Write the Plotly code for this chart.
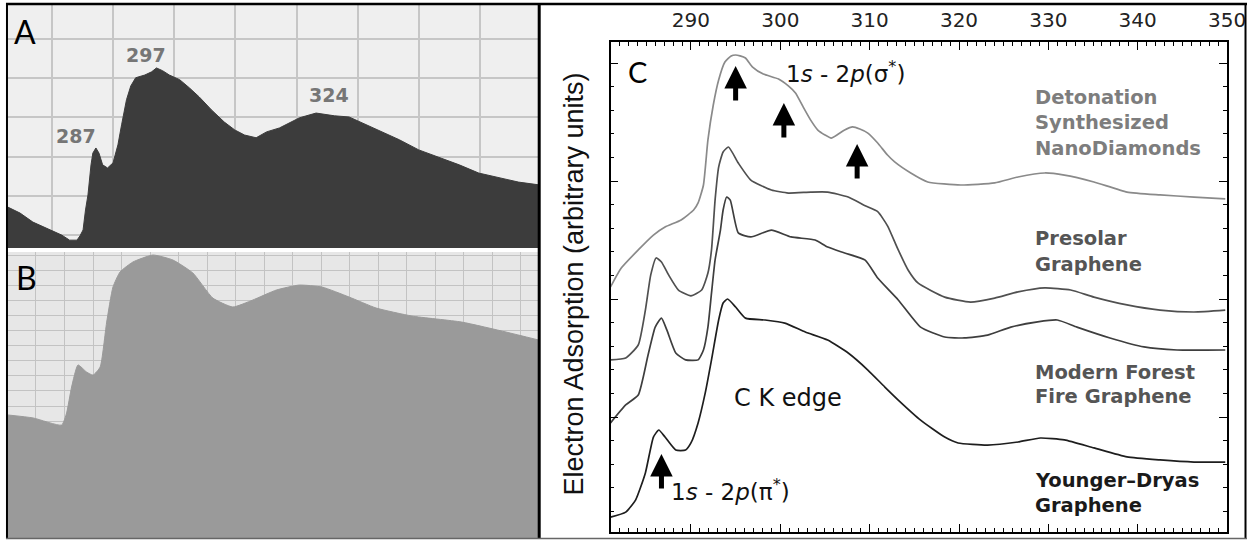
import plotly.graph_objects as go

W, H = 1252, 540          # reference picture size used for placing elements
LW, LH = 1268, 540        # layout size handed to plotly (renders at 1252 wide)

def px(x): return x / W
def py(y): return 1 - y / H

# ---------------- Panel A (dark spectrum) ----------------
a_ev = [272.7, 274.8, 276.9, 279.7, 281.6, 282.9, 284.1, 284.6, 285.1, 285.5, 285.9, 286.4, 286.7,
        287.2, 287.7, 288.3, 289.1, 290.0, 290.8, 291.4, 292.2, 292.9, 293.7, 295.2, 296.3, 297.1,
        298.1, 299.2, 300.9, 302.5, 304.1, 306.1, 308.2, 309.9, 311.5, 313.4, 315.1, 317.2, 320.5,
        323.2, 326.2, 328.6, 331.4, 333.5, 336.8, 340.0, 343.3, 346.6, 349.8, 353.1, 356.3, 359.6]
a_int = [1.05, 0.89, 0.66, 0.46, 0.33, 0.20, 0.20, 0.31, 0.46, 0.97, 1.35, 2.12, 2.42,
         2.55, 2.42, 2.12, 2.04, 2.17, 2.63, 3.14, 3.78, 4.13, 4.34, 4.41, 4.49, 4.59,
         4.52, 4.41, 4.29, 4.08, 3.85, 3.52, 3.21, 3.01, 2.88, 2.81, 2.96, 3.06, 3.32,
         3.44, 3.37, 3.34, 3.14, 3.01, 2.76, 2.50, 2.32, 2.12, 1.91, 1.79, 1.68, 1.61]
a_peak_labels = ["287", "297", "324"]

# ---------------- Panel B (gray spectrum) ----------------
b_ev = [272.0, 275.6, 279.6, 280.3, 281.0, 281.9, 283.1, 284.0, 285.0, 285.9, 286.8, 287.8, 289.6,
        292.4, 295.2, 298.0, 300.8, 303.6, 306.4, 309.7, 312.9, 316.1, 319.9, 323.7, 328.7, 335.7,
        341.9, 346.5]
b_int = [8.15, 7.95, 7.48, 8.28, 10.0, 11.46, 10.99, 10.79, 11.32, 14.24, 16.62, 17.62, 18.28,
         18.74, 18.41, 17.55, 15.89, 15.30, 15.76, 16.42, 16.75, 16.62, 15.96, 15.23, 14.70, 14.30,
         13.64, 13.11]

# ---------------- Panel C (stacked EELS spectra) ----------------
c_tick_ev = [290, 300, 310, 320, 330, 340, 350]

nd_ev = [281.0, 282.2, 284.1, 285.8, 287.1, 288.9, 290.3, 290.8, 291.4, 291.9, 292.5, 293.1, 293.8,
         294.5, 295.0, 295.5, 296.1, 296.9, 298.1, 299.8, 300.9, 301.7, 302.5, 303.4, 304.2, 305.0,
         305.7, 306.5, 307.2, 308.1, 308.9, 309.8, 310.9, 312.0, 312.8, 314.6, 316.5, 320.2, 324.0,
         326.6, 329.6, 331.8, 335.1, 338.8, 342.5, 346.3, 349.8]
nd_val = [10.51, 11.31, 12.08, 12.71, 13.05, 13.35, 13.77, 14.07, 14.83, 16.74, 18.22, 19.28, 20.04,
          20.30, 20.34, 20.30, 20.21, 19.83, 19.53, 19.32, 19.03, 18.73, 18.18, 17.58, 17.16, 16.95,
          16.82, 16.99, 17.16, 17.29, 17.20, 17.03, 16.61, 16.10, 15.81, 15.34, 14.96, 14.83, 14.92,
          15.17, 15.34, 15.25, 14.96, 14.53, 14.41, 14.32, 14.24]

pre_ev = [281.0, 282.7, 284.1, 284.9, 285.5, 286.1, 286.7, 287.5, 288.6, 290.0, 291.2, 291.9, 292.3,
          292.7, 293.1, 293.6, 294.2, 295.3, 296.7, 299.0, 300.9, 303.4, 305.3, 307.6, 309.5, 310.9,
          312.0, 313.2, 314.3, 315.4, 318.4, 321.3, 324.0, 326.6, 329.6, 332.5, 335.1, 338.8, 342.5,
          346.3, 349.8]
pre_val = [7.42, 7.50, 8.05, 9.53, 11.02, 11.74, 11.57, 11.02, 10.38, 10.13, 10.38, 11.10, 12.08,
           14.19, 15.59, 16.23, 16.44, 15.76, 15.04, 14.62, 14.49, 14.53, 14.53, 14.32, 13.95, 13.70,
           13.10, 12.08, 11.23, 10.68, 10.08, 9.87, 10.04, 10.30, 10.47, 10.38, 10.08, 9.75, 9.53,
           9.45, 9.53]

mf_ev = [281.0, 282.7, 284.1, 285.2, 286.0, 286.7, 287.3, 288.3, 289.4, 290.8, 291.4, 291.9, 292.3,
         292.7, 293.3, 293.6, 294.0, 294.4, 295.3, 296.7, 299.0, 301.2, 303.9, 305.3, 307.2, 309.5,
         310.9, 313.2, 315.7, 318.4, 320.6, 323.2, 325.8, 328.8, 331.0, 333.2, 336.9, 340.7, 344.4,
         349.8]
mf_val = [4.75, 5.51, 5.93, 7.63, 8.81, 9.19, 8.69, 7.71, 7.42, 7.42, 7.84, 8.81, 10.25,
          11.65, 12.92, 13.77, 14.32, 14.19, 12.80, 12.63, 12.92, 12.63, 12.50, 12.20, 11.95, 11.65,
          10.89, 9.96, 8.81, 8.39, 8.35, 8.47, 8.81, 9.03, 9.11, 8.81, 8.35, 7.97, 7.84,
          7.84]

yd_ev = [281.0, 282.7, 283.8, 284.9, 285.8, 286.4, 287.1, 288.3, 289.4, 290.0, 290.8, 291.6, 292.3,
         293.1, 293.6, 294.1, 295.0, 296.1, 298.3, 300.5, 302.8, 305.3, 307.6, 309.8, 311.7, 313.2,
         315.7, 318.4, 319.9, 323.2, 326.6, 329.1, 331.8, 335.1, 338.8, 342.5, 346.3, 349.8]
yd_val = [0.76, 0.97, 1.48, 2.63, 4.15, 4.45, 4.15, 3.60, 3.60, 3.90, 4.75, 6.02, 7.42,
          9.11, 9.83, 10.00, 9.66, 9.19, 9.11, 8.98, 8.60, 8.26, 7.71, 6.99, 6.27, 5.72,
          4.87, 4.15, 3.90, 3.81, 3.94, 4.11, 4.03, 3.69, 3.31, 3.18, 3.09, 3.09]

# transition arrows: energy (eV) and tip height (same units as the spectra)
arrow_ev = [295.0, 300.4, 308.6, 286.7]
arrow_tip = [19.87, 18.31, 16.57, 3.43]

series_labels = [
    (["Detonation", "Synthesized", "NanoDiamonds"], [98, 123, 148], "#7d7d7d"),
    (["Presolar", "Graphene"], [238, 264], "#555555"),
    (["Modern Forest", "Fire Graphene"], [372, 396], "#555555"),
    (["Younger\u2013Dryas", "Graphene"], [480, 505], "#1a1a1a"),
]

FONT = "Liberation Sans, Arial, Helvetica, sans-serif"
WIDE = "DejaVu Sans, Verdana, sans-serif"
LBL = "Lato, Calibri, Open Sans, sans-serif"

fig = go.Figure()

fig.add_trace(go.Scatter(x=a_ev, y=a_int, mode="lines", fill="tozeroy",
                         line=dict(color="#3c3c3c", width=1), fillcolor="#3c3c3c",
                         xaxis="x", yaxis="y", hoverinfo="skip"))
fig.add_trace(go.Scatter(x=b_ev, y=b_int, mode="lines", fill="tozeroy",
                         line=dict(color="#9a9a9a", width=1, shape="spline", smoothing=0.5),
                         fillcolor="#9a9a9a", xaxis="x2", yaxis="y2", hoverinfo="skip"))

for xs, ys, col in [(nd_ev, nd_val, "#8a8a8a"), (pre_ev, pre_val, "#505050"),
                    (mf_ev, mf_val, "#3e3e3e"), (yd_ev, yd_val, "#1e1e1e")]:
    fig.add_trace(go.Scatter(x=xs, y=ys, mode="lines",
                             line=dict(color=col, width=1.7, shape="spline", smoothing=0.5),
                             xaxis="x3", yaxis="y3", hoverinfo="skip"))

hidden = dict(showticklabels=False, ticks="", zeroline=False, showline=False)
fig.update_layout(
    width=LW, height=LH, autosize=False, margin=dict(l=0, r=0, t=0, b=0, pad=0),
    paper_bgcolor="white", plot_bgcolor="rgba(0,0,0,0)", showlegend=False,
    xaxis=dict(domain=[px(7), px(540)], range=[272.66, 359.6], anchor="y",
               showgrid=True, gridcolor="#c6c6c6", gridwidth=1.5, tick0=280, dtick=10, **hidden),
    yaxis=dict(domain=[py(248), py(4)], range=[0, 6.22], anchor="x",
               showgrid=True, gridcolor="#c6c6c6", gridwidth=1.5, tick0=0.33, dtick=1, **hidden),
    xaxis2=dict(domain=[px(7), px(540)], range=[271.94, 346.49], anchor="y2",
                showgrid=True, gridcolor="#c3c3c3", gridwidth=1, tick0=276, dtick=4, **hidden),
    yaxis2=dict(domain=[py(538), py(252)], range=[0, 18.94], anchor="x2",
                showgrid=True, gridcolor="#c3c3c3", gridwidth=1, tick0=0.74, dtick=1, **hidden),
    xaxis3=dict(domain=[px(612), px(1230)], range=[281, 350], anchor="y3", side="top",
                tickvals=c_tick_ev, ticks="inside", ticklen=8, tickwidth=1.2, tickcolor="black",
                showline=True, linecolor="black", linewidth=1.5, mirror="ticks",
                showgrid=False, zeroline=False, ticklabelstandoff=5,
                tickfont=dict(family=WIDE, size=20, color="#222222"),
                minor=dict(dtick=1, ticks="inside", ticklen=4, tickcolor="black", showgrid=False)),
    yaxis3=dict(domain=[py(532), py(42)], range=[0.127, 20.89], anchor="x3",
                tick0=0, dtick=5, ticks="inside", ticklen=8, tickwidth=1.2, tickcolor="black",
                showticklabels=False, showline=True, linecolor="black", linewidth=1.5,
                mirror="ticks", showgrid=False, zeroline=False,
                minor=dict(dtick=1, ticks="inside", ticklen=4, tickcolor="black", showgrid=False)),
)

shapes = [
    dict(type="rect", xref="x domain", yref="y domain", x0=0, x1=1, y0=0, y1=1,
         fillcolor="#efefef", line=dict(width=0), layer="below"),
    dict(type="rect", xref="x2 domain", yref="y2 domain", x0=0, x1=1, y0=0, y1=1,
         fillcolor="#e7e7e7", line=dict(width=0), layer="below"),
    dict(type="line", xref="paper", yref="paper", x0=px(6), x1=px(1250), y0=py(4), y1=py(4),
         line=dict(color="black", width=2.5)),
    dict(type="line", xref="paper", yref="paper", x0=px(7), x1=px(7), y0=py(3), y1=py(539),
         line=dict(color="black", width=2)),
    dict(type="line", xref="paper", yref="paper", x0=px(540.5), x1=px(540.5), y0=py(3), y1=py(539),
         line=dict(color="black", width=3)),
    dict(type="line", xref="paper", yref="paper", x0=px(1248.5), x1=px(1248.5), y0=py(3), y1=py(539),
         line=dict(color="black", width=2)),
    dict(type="line", xref="paper", yref="paper", x0=px(6), x1=px(1250), y0=py(538.5), y1=py(538.5),
         line=dict(color="#666666", width=1.5)),
]
fig.update_layout(shapes=shapes)

ann = []
def text(x, y, s, size, color="black", xanchor="left", bold=False, family=WIDE):
    if bold:
        s = "<b>" + s + "</b>"
    ann.append(dict(x=px(x), y=py(y), xref="paper", yref="paper", text=s, showarrow=False,
                    xanchor=xanchor, yanchor="middle", align="left",
                    font=dict(family=family, size=size, color=color)))

text(12, 32, "A", 32, family=LBL)
text(14, 277, "B", 32, family=LBL)
for s, (x, y) in zip(a_peak_labels, [(76, 136), (146, 55), (330, 95)]):
    text(x, y, s, 19, color="#767676", xanchor="center", bold=True)

text(628, 72, "C", 29, family=LBL)
text(786, 72, "1<i>s</i> - 2<i>p</i>(σ<sup>*</sup>)", 23, color="#111111")
text(790, 398, "C K edge", 24, color="#111111", xanchor="center")
text(671, 490, "1<i>s</i> - 2<i>p</i>(π<sup>*</sup>)", 23, color="#111111")
for lines, ys, col in series_labels:
    for s, y in zip(lines, ys):
        text(1035, y, s, 19.5, color=col, bold=True)

ann.append(dict(x=px(575), y=py(284), xref="paper", yref="paper", textangle=-90,
                text="Electron Adsorption (arbitrary units)", showarrow=False,
                xanchor="center", yanchor="middle",
                font=dict(family=FONT, size=27, color="#111111")))

# upward arrows marking the 1s-2p transitions
for xa, ya in zip(arrow_ev, arrow_tip):
    ann.append(dict(x=xa, y=ya, xref="x3", yref="y3", text="", showarrow=True,
                    ax=0, ay=36, arrowhead=2, arrowsize=0.9, arrowwidth=5,
                    arrowcolor="black", standoff=0, startstandoff=0))

fig.update_layout(annotations=ann)

fig.write_html("out.html",
               config={"displayModeBar": False, "responsive": False},
               post_script="document.body.style.margin='0';document.body.style.padding='0';"
                           "document.documentElement.style.overflow='hidden';")
